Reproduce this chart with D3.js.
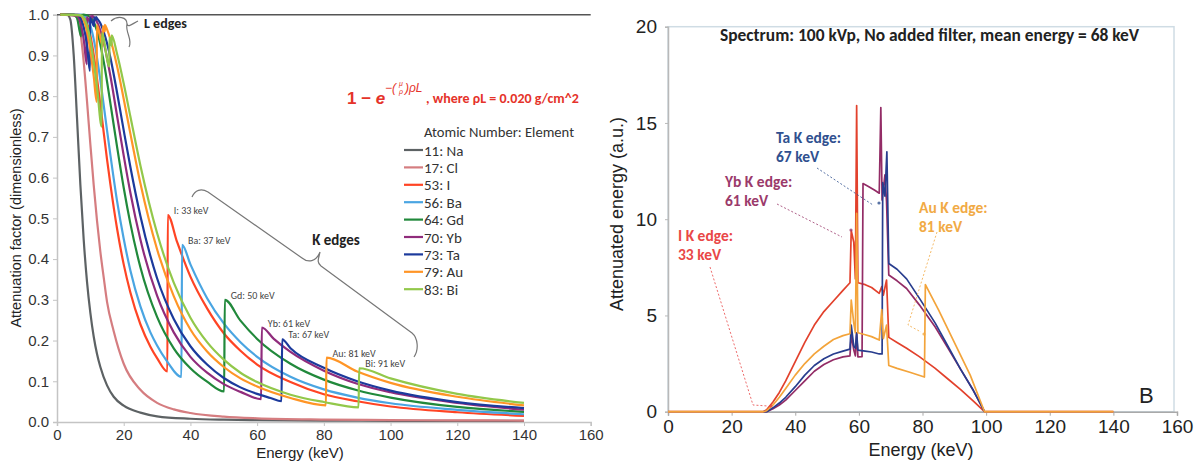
<!DOCTYPE html>
<html>
<head>
<meta charset="utf-8">
<script src="https://cdn.jsdelivr.net/npm/d3@7"></script>
<style>
  body { margin: 0; background: #fff; }
  text { font-family: "Liberation Sans", Arial, sans-serif; }
  .cal { font-family: Carlito, Lato, "Open Sans", sans-serif; }
</style>
</head>
<body>
<svg id="fig" width="1197" height="463"></svg>
<script>
// ---------- left panel data: attenuation factor vs energy (keV) ----------
var elements   = ["11: Na", "17: Cl", "53: I", "56: Ba", "64: Gd", "70: Yb", "73: Ta", "79: Au", "83: Bi"];
var elemColors = ["#5d6264", "#d57d80", "#ff4424", "#4aa5e2", "#21893b", "#902c7c", "#1c3a9c", "#ff9526", "#92c84a"];

var naAtt = [[1,1],[3,1],[4,0.988],[5,0.902],[6,0.746],[7,0.583],[8,0.448],[9,0.344],[10,0.268],[11,0.21],[12,0.167],
             [13,0.135],[15,0.09],[17,0.062],[20,0.04],[25,0.023],[30,0.014],[40,0.008],[50,0.0056],[60,0.0045],
             [80,0.0036],[100,0.003],[120,0.0028],[140,0.0026]];
var clAtt = [[1,1],[4,1],[5,0.999],[6,0.993],[7,0.958],[8,0.885],[9,0.787],[10,0.682],[11,0.582],[12,0.494],[13,0.418],
             [14,0.355],[15,0.295],[17,0.223],[20,0.143],[25,0.079],[30,0.047],[35,0.031],[40,0.022],[50,0.013],
             [60,0.009],[80,0.006],[100,0.0047],[120,0.004],[140,0.0036]];
var iAtt  = [[1,1],[6,1],[8,0.995],[9,0.98],[10,0.949],[11,0.902],[12,0.843],[13,0.779],[14,0.711],[15,0.645],[16,0.584],
             [18,0.475],[20,0.387],[22,0.318],[25,0.24],[28,0.185],[30,0.157],[33.1,0.124],[33.2,0.508],[36,0.442],
             [40,0.357],[45,0.279],[50,0.218],[55,0.175],[60,0.141],[70,0.098],[80,0.068],[90,0.051],[100,0.038],
             [120,0.024],[140,0.015]];
var baAtt = [[1,1],[7,1],[8,0.998],[9,0.991],[10,0.973],[11,0.94],[12,0.894],[13,0.839],[14,0.778],[15,0.716],[16,0.656],
             [18,0.543],[20,0.45],[22,0.372],[25,0.284],[28,0.22],[30,0.188],[33,0.149],[37.3,0.111],[37.5,0.435],
             [40,0.387],[45,0.304],[50,0.242],[55,0.196],[60,0.16],[70,0.111],[80,0.08],[90,0.06],[100,0.046],
             [120,0.03],[140,0.019]];
var gdAtt = [[1,1],[5,1],[6,0.992],[7.2,0.947],[7.3,0.999],[8,1],[10,0.994],[12,0.96],[14,0.885],[16,0.783],[18,0.676],
             [20,0.575],[22,0.487],[25,0.38],[30,0.258],[35,0.181],[40,0.132],[45,0.099],[50.1,0.075],[50.3,0.3],
             [55,0.249],[60,0.204],[70,0.143],[80,0.104],[90,0.078],[100,0.06],[120,0.037],[140,0.025]];
var ybAtt = [[1,1],[6,0.997],[7,0.981],[8,0.94],[8.93,0.878],[8.95,0.995],[9.97,0.981],[9.99,0.996],[10.48,0.992],
             [10.5,0.997],[12,0.982],[14,0.932],[16,0.85],[18,0.752],[20,0.654],[22,0.563],[25,0.448],[30,0.31],
             [35,0.22],[40,0.16],[45,0.121],[50,0.093],[55,0.074],[61.2,0.056],[61.4,0.232],[65,0.204],[70,0.172],
             [80,0.126],[90,0.094],[100,0.073],[120,0.047],[140,0.03]];
var taAtt = [[1,1],[6,0.999],[7,0.993],[8,0.97],[9,0.924],[9.87,0.862],[9.89,0.992],[11.13,0.972],[11.15,0.993],
             [11.67,0.988],[11.69,0.994],[12,0.991],[13,0.979],[14,0.958],[15,0.93],[16,0.895],[18,0.809],[20,0.716],
             [22,0.626],[25,0.506],[30,0.353],[35,0.253],[40,0.186],[45,0.141],[50,0.108],[55,0.085],[60,0.069],
             [64,0.059],[67.3,0.051],[67.5,0.203],[70,0.181],[80,0.133],[90,0.1],[100,0.077],[120,0.049],[140,0.034]];
var auAtt = [[1,1],[7,0.998],[8,0.987],[9,0.959],[10,0.912],[11,0.85],[11.91,0.786],[11.93,0.975],[13.72,0.923],
             [13.74,0.972],[14.34,0.959],[14.36,0.975],[15,0.964],[16,0.94],[18,0.874],[20,0.793],[22,0.708],
             [25,0.586],[30,0.424],[35,0.309],[40,0.227],[45,0.173],[50,0.135],[55,0.107],[60,0.087],[70,0.059],
             [80.6,0.041],[80.8,0.158],[90,0.124],[100,0.096],[120,0.062],[140,0.041]];
var biAtt = [[1,1],[7,0.999],[8,0.993],[9,0.974],[10,0.938],[11,0.885],[12,0.822],[13.41,0.725],[13.43,0.955],
             [15.7,0.873],[15.72,0.944],[16.38,0.924],[16.4,0.949],[18,0.904],[20,0.831],[22,0.75],[25,0.63],
             [30,0.464],[35,0.342],[40,0.256],[45,0.196],[50,0.153],[55,0.121],[60,0.098],[70,0.067],[80,0.049],
             [90.4,0.036],[90.6,0.132],[100,0.107],[120,0.069],[140,0.047]];
var attSeries = [naAtt, clAtt, iAtt, baAtt, gdAtt, ybAtt, taAtt, auAtt, biAtt];

var edgeLabels = ["I: 33 keV", "Ba: 37 keV", "Gd: 50 keV", "Yb: 61 keV", "Ta: 67 keV", "Au: 81 keV", "Bi: 91 keV"];
var edgeEnergy = [33.2, 37.5, 50.3, 61.4, 67.5, 80.8, 90.6];
var edgePeak   = [0.508, 0.435, 0.3, 0.232, 0.203, 0.158, 0.132];

// ---------- right panel data: attenuated energy (a.u.) vs energy (keV) ----------
var specNames  = ["I", "Yb", "Ta", "Au"];
var specColors = ["#e2412c", "#932c66", "#283d8e", "#f3a43b"];
var iSpec  = [[0,0],[30,0],[31,0.1],[33,0.5],[35,1.0],[37,1.6],[40,2.6],[43,3.6],[46,4.5],[49,5.2],[52,5.75],
              [55,6.3],[57.2,6.7],[57.6,9.4],[58.4,8.8],[58.9,6.9],[59.3,15.9],[59.7,6.7],[62,6.6],[64,6.45],
              [66.4,6.15],[67.2,6.5],[67.7,6.06],[68.7,6.84],[69.4,3.86],[72,3.6],[75,3.3],[79,2.86],[84,2.25],
              [88,1.7],[92,1.15],[96,0.55],[99.5,0],[140,0]];
var ybSpec = [[30,0],[31,0],[33,0.15],[35,0.35],[37,0.6],[40,1.1],[43,1.6],[46,2.1],[49,2.45],[52,2.7],[55,2.85],
              [57.2,2.9],[57.6,4.0],[58.4,3.2],[58.9,2.9],[59.3,4.1],[59.7,2.85],[61,2.86],[61.3,11.85],[63,11.7],
              [65,11.5],[66.4,11.35],[66.9,15.8],[67.3,11.0],[68.2,12.3],[68.7,10.9],[69.4,7.1],[72,6.8],[75,6.4],
              [79,5.55],[84,4.4],[88,3.3],[92,2.2],[96,1.1],[99.5,0]];
var taSpec = [[30,0],[31,0],[33,0.2],[35,0.45],[37,0.75],[40,1.3],[43,1.9],[46,2.4],[49,2.75],[52,3.0],[55,3.15],
              [57.2,3.25],[57.6,4.5],[58.4,3.4],[58.9,3.3],[59.3,4.1],[59.7,3.2],[62,3.15],[64,3.1],[66.4,3.0],
              [67.3,3.0],[67.5,11.9],[68.2,11.2],[68.8,13.5],[69.4,7.7],[72,7.4],[75,6.9],[79,5.9],[84,4.6],
              [88,3.4],[92,2.2],[96,1.1],[99.5,0]];
var auSpec = [[0,0],[30,0],[31,0.05],[33,0.35],[35,0.75],[37,1.2],[40,1.9],[43,2.5],[46,3.0],[49,3.4],[52,3.75],
              [55,3.95],[57.2,4.05],[57.6,5.8],[58.4,4.6],[58.9,4.1],[59.3,10.3],[59.7,4.1],[62,4.0],[64,3.9],
              [66.4,3.72],[67.2,5.3],[67.7,3.8],[68.7,4.5],[69.4,2.4],[72,2.25],[76,2.05],[80.6,1.8],[80.9,6.6],
              [85,5.3],[90,3.6],[95,1.9],[99.5,0],[140,0]];
var specSeries = [iSpec, ybSpec, taSpec, auSpec];

var specNotes  = [["Ta K edge:", "67 keV"], ["Yb K edge:", "61 keV"], ["I K edge:", "33 keV"], ["Au K edge:", "81 keV"]];
var noteColors = ["#30508f", "#9b3a6b", "#e94747", "#f1aa45"];

var svg = d3.select("#fig");

// ================= LEFT PANEL =================
var xL = d3.scaleLinear().domain([0, 160]).range([57, 590.7]);
var yL = d3.scaleLinear().domain([0, 1]).range([422, 14.7]);

var gL = svg.append("g");

gL.append("g")
    .attr("transform", "translate(0," + yL(0) + ")")
    .call(d3.axisBottom(xL).tickValues(d3.range(0, 161, 20)).tickSize(4).tickPadding(3))
    .call(function(g){
        g.select(".domain").attr("stroke", "#c4c4c4").attr("stroke-width", 1.5);
        g.selectAll(".tick line").attr("stroke", "#c4c4c4");
        g.selectAll(".tick text").attr("font-size", "15px").attr("fill", "#333")
            .attr("font-family", "Liberation Sans, Arial, sans-serif");
    });

gL.append("g")
    .attr("transform", "translate(" + xL(0) + ",0)")
    .call(d3.axisLeft(yL).tickValues(d3.range(0, 10.5, 1).map(function(d){ return d / 10; }))
        .tickFormat(d3.format(".1f")).tickSize(4).tickPadding(4))
    .call(function(g){
        g.select(".domain").attr("stroke", "#c4c4c4").attr("stroke-width", 1.5);
        g.selectAll(".tick line").attr("stroke", "#c4c4c4");
        g.selectAll(".tick text").attr("font-size", "15px").attr("fill", "#333")
            .attr("font-family", "Liberation Sans, Arial, sans-serif");
    });

// top border line
gL.append("line")
    .attr("x1", xL(0)).attr("x2", xL(160))
    .attr("y1", yL(1)).attr("y2", yL(1))
    .attr("stroke", "#555").attr("stroke-width", 1.6);

var lineL = d3.line()
    .x(function(d){ return xL(d[0]); })
    .y(function(d){ return yL(d[1]); })
    .curve(d3.curveMonotoneX);

gL.selectAll(".att")
    .data(attSeries)
    .enter()
    .append("path")
    .attr("class", "att")
    .attr("d", lineL)
    .attr("fill", "none")
    .attr("stroke", function(d, i){ return elemColors[i]; })
    .attr("stroke-width", 2.2)
    .attr("stroke-linejoin", "round");

// axis titles
gL.append("text")
    .attr("transform", "translate(21,218) rotate(-90)")
    .attr("text-anchor", "middle")
    .attr("font-size", "14.5px").attr("fill", "#222")
    .text("Attenuation factor (dimensionless)");
gL.append("text")
    .attr("x", 300).attr("y", 458)
    .attr("text-anchor", "middle")
    .attr("font-size", "15px").attr("fill", "#222")
    .text("Energy (keV)");

// K edge labels
gL.selectAll(".edgeLab")
    .data(edgeLabels)
    .enter()
    .append("text")
    .attr("class", "edgeLab cal")
    .attr("x", function(d, i){ return xL(edgeEnergy[i]) + 6; })
    .attr("y", function(d, i){ return yL(edgePeak[i]) - 1; })
    .attr("font-size", "10px").attr("fill", "#444")
    .text(function(d){ return d; });

// L edges brace + label
gL.append("path")
    .attr("d", "M111,21 C118,15 127,17 127,24 C128,28 132,24 138,21 M127,24 C125,32 133,40 129,47")
    .attr("fill", "none").attr("stroke", "#777").attr("stroke-width", 1.2);
gL.append("text").attr("class", "cal")
    .attr("x", 144).attr("y", 28)
    .attr("font-size", "14px").attr("font-weight", "bold").attr("fill", "#222")
    .text("L edges");

// K edges brace + label
gL.append("path")
    .attr("d", "M192,197 C195,190 201,188 208,192 L302,258 C308,263 316,262 320,252 " +
               "M320,252 C319,258 316,262 321,266 L412,333 C418,338 419,350 414,357")
    .attr("fill", "none").attr("stroke", "#777").attr("stroke-width", 1.2);
gL.append("text").attr("class", "cal")
    .attr("x", 336).attr("y", 245)
    .attr("text-anchor", "middle")
    .attr("font-size", "15px").attr("font-weight", "bold").attr("fill", "#222")
    .text("K edges");

// formula
var red = "#e5332a";
gL.append("text")
    .attr("x", 347).attr("y", 104)
    .attr("font-family", "DejaVu Serif, serif")
    .attr("font-size", "17px").attr("font-weight", "bold").attr("fill", red)
    .text("1 − ")
    .append("tspan").attr("font-style", "italic").text("e");
gL.append("text")
    .attr("x", 385).attr("y", 92)
    .attr("font-family", "DejaVu Serif, serif")
    .attr("font-size", "12px").attr("font-style", "italic").attr("fill", red)
    .text("−(");
gL.append("text")
    .attr("x", 401).attr("y", 86)
    .attr("font-family", "DejaVu Serif, serif")
    .attr("font-size", "7px").attr("font-style", "italic").attr("fill", red)
    .attr("text-anchor", "middle").text("μ");
gL.append("text")
    .attr("x", 401).attr("y", 94)
    .attr("font-family", "DejaVu Serif, serif")
    .attr("font-size", "7px").attr("font-style", "italic").attr("fill", red)
    .attr("text-anchor", "middle").text("ρ");
gL.append("text")
    .attr("x", 405).attr("y", 92)
    .attr("font-family", "DejaVu Serif, serif")
    .attr("font-size", "12px").attr("font-style", "italic").attr("fill", red)
    .text(")ρL");
gL.append("text").attr("class", "cal")
    .attr("x", 426).attr("y", 103)
    .attr("font-size", "14px").attr("font-weight", "bold").attr("fill", red)
    .text(", where ρL = 0.020 g/cm^2");

// legend
var leg = gL.append("g").attr("transform", "translate(404,150)");
leg.append("text").attr("class", "cal")
    .attr("x", 20).attr("y", -13)
    .attr("font-size", "14.6px").attr("fill", "#333")
    .text("Atomic Number: Element");
var legItem = leg.selectAll(".legItem")
    .data(elements)
    .enter()
    .append("g")
    .attr("class", "legItem")
    .attr("transform", function(d, i){ return "translate(0," + (i * 17.4) + ")"; });
legItem.append("line")
    .attr("x1", 0).attr("x2", 19).attr("y1", 0).attr("y2", 0)
    .attr("stroke", function(d, i){ return elemColors[i]; })
    .attr("stroke-width", 2.2);
legItem.append("text").attr("class", "cal")
    .attr("x", 20).attr("y", 5.5)
    .attr("font-size", "15px").attr("fill", "#333")
    .text(function(d){ return d; });

// ================= RIGHT PANEL =================
var xR = d3.scaleLinear().domain([0, 160]).range([668, 1177]);
var yR = d3.scaleLinear().domain([0, 20]).range([411.7, 26.7]);

var gR = svg.append("g");

gR.append("rect")
    .attr("x", xR(0)).attr("y", yR(20))
    .attr("width", xR(160) - xR(0) - 3).attr("height", yR(0) - yR(20))
    .attr("fill", "none").attr("stroke", "#cfdce4").attr("stroke-width", 1.5);

gR.append("g")
    .attr("transform", "translate(0," + yR(0) + ")")
    .call(d3.axisBottom(xR).tickValues(d3.range(0, 161, 20)).tickSize(4).tickPadding(4))
    .call(function(g){
        g.select(".domain").attr("stroke", "#a9a9a9").attr("stroke-width", 1.5);
        g.selectAll(".tick line").attr("stroke", "#a9a9a9");
        g.selectAll(".tick text").attr("font-size", "19px").attr("fill", "#222")
            .attr("font-family", "Liberation Sans, Arial, sans-serif");
    });

gR.append("g")
    .attr("transform", "translate(" + xR(0) + ",0)")
    .call(d3.axisLeft(yR).tickValues([0, 5, 10, 15, 20]).tickSize(3).tickPadding(8))
    .call(function(g){
        g.select(".domain").attr("stroke", "#b9b9b9").attr("stroke-width", 1.5);
        g.selectAll(".tick line").attr("stroke", "#b9b9b9");
        g.selectAll(".tick text").attr("font-size", "19px").attr("fill", "#222")
            .attr("font-family", "Liberation Sans, Arial, sans-serif");
    });

var lineR = d3.line()
    .x(function(d){ return xR(d[0]); })
    .y(function(d){ return yR(d[1]); });

gR.selectAll(".spec")
    .data(specSeries)
    .enter()
    .append("path")
    .attr("class", "spec")
    .attr("d", lineR)
    .attr("fill", "none")
    .attr("stroke", function(d, i){ return specColors[i]; })
    .attr("stroke-width", 1.7)
    .attr("stroke-linejoin", "round");

// titles
gR.append("text")
    .attr("transform", "translate(623,214) rotate(-90)")
    .attr("text-anchor", "middle")
    .attr("font-size", "18px").attr("fill", "#222")
    .text("Attenuated energy (a.u.)");
gR.append("text")
    .attr("x", 921).attr("y", 456)
    .attr("text-anchor", "middle")
    .attr("font-size", "18px").attr("fill", "#222")
    .text("Energy (keV)");
gR.append("text").attr("class", "cal")
    .attr("x", 720).attr("y", 41)
    .attr("font-size", "17.4px").attr("font-weight", "bold").attr("fill", "#222")
    .text("Spectrum: 100 kVp, No added filter, mean energy = 68 keV");
gR.append("text")
    .attr("x", 1139).attr("y", 403)
    .attr("font-size", "22px").attr("fill", "#222")
    .text("B");

// K edge notes with dotted leaders
var notePos = [[776, 143], [725, 187], [678, 241], [919, 213]];
var leaders = [
    "M817,168 L873,205",
    "M777,204 L842,237",
    "M710,267 L753,405 L768,406",
    "M937,232 L908,325 L921,332"
];
var arrowTips = [[879, 203], [851, 230], [771, 406], [924, 334]];
specNotes.forEach(function(n, i){
    var t = gR.append("text").attr("class", "cal")
        .attr("x", notePos[i][0]).attr("y", notePos[i][1])
        .attr("font-size", "15.5px").attr("font-weight", "bold").attr("fill", noteColors[i]);
    t.append("tspan").attr("x", notePos[i][0]).text(n[0]);
    t.append("tspan").attr("x", notePos[i][0]).attr("dy", 19).text(n[1]);
    gR.append("path")
        .attr("d", leaders[i])
        .attr("fill", "none").attr("stroke", noteColors[i])
        .attr("stroke-width", 1).attr("stroke-dasharray", "2,2").attr("opacity", 0.8);
    gR.append("circle")
        .attr("cx", arrowTips[i][0]).attr("cy", arrowTips[i][1]).attr("r", 1.6)
        .attr("fill", noteColors[i]).attr("opacity", 0.8);
});
</script>
</body>
</html>
